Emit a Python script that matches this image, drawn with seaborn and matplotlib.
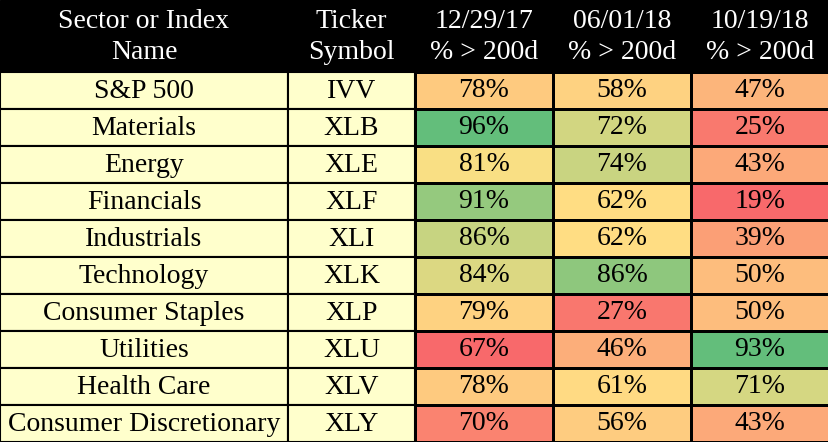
import matplotlib
matplotlib.use("Agg")
import matplotlib.pyplot as plt
import numpy as np
import pandas as pd
import seaborn as sns
from matplotlib.colors import LinearSegmentedColormap
from matplotlib.patches import Rectangle

names = ["S&P 500", "Materials", "Energy", "Financials", "Industrials", "Technology",
         "Consumer Staples", "Utilities", "Health Care", "Consumer Discretionary"]
tickers = ["IVV", "XLB", "XLE", "XLF", "XLI", "XLK", "XLP", "XLU", "XLV", "XLY"]
col_labels = ["12/29/17\n% > 200d", "06/01/18\n% > 200d", "10/19/18\n% > 200d"]
v1 = [78, 96, 81, 91, 86, 84, 79, 67, 78, 70]
v2 = [58, 72, 74, 62, 62, 86, 27, 46, 61, 56]
v3 = [47, 25, 43, 19, 39, 50, 50, 93, 71, 43]

df = pd.DataFrame({"a": v1, "b": v2, "c": v3})
# colour-scale anchors (low, mid, high) per column
anchors = {"a": (67, 80.5, 96), "b": (22, 63, 95), "c": (19, 63, 93)}

def scale(col):
    a = np.array(col, float)
    lo, md, hi = anchors[col.name]
    r = np.where(a <= md, 0.5 * (a - lo) / (md - lo), 0.5 + 0.5 * (a - md) / (hi - md))
    return np.clip(r, 0, 1)

norm = df.apply(scale)
cmap = LinearSegmentedColormap.from_list("ryg", ["#F8696B", "#FFE084", "#63BE7B"])
annot = df.map(lambda v: f"{v}%")

W, H = 829, 442
fig = plt.figure(figsize=(W / 100, H / 100), dpi=100)
font = "Liberation Serif"
fs = 20
hdr = 72
rh = (H - hdr) / 10

axl = fig.add_axes([0, 0, 1, 1])
axl.set_xlim(0, W); axl.set_ylim(H, 0); axl.axis("off")
axl.add_patch(Rectangle((0, 0), W, hdr, color="black"))
for i in range(10):
    y = hdr + i * rh
    for x0, w, t in [(0, 288, names[i]), (288, 127, tickers[i])]:
        axl.add_patch(Rectangle((x0, y), w, rh, facecolor="#FFFFCC", edgecolor="black", lw=1.5))
        axl.text(x0 + w / 2, y + rh / 2 + 1, t, ha="center", va="center", fontsize=fs, family=font)
for x, t in [(144, "Sector or Index\nName"), (351, "Ticker\nSymbol")] + \
        [(415 + 138 * k + 69, col_labels[k]) for k in range(3)]:
    axl.text(x, hdr / 2 + 1, t, ha="center", va="center", fontsize=fs, family=font,
             color="white", linespacing=1.3)

axh = fig.add_axes([415 / W, 0, (W - 415) / W, (H - hdr) / H])
sns.heatmap(norm, ax=axh, cmap=cmap, vmin=0, vmax=1, cbar=False, annot=annot, fmt="",
            annot_kws={"fontsize": fs, "family": font, "color": "black"},
            linewidths=1, linecolor="black", xticklabels=False, yticklabels=False)
axh.set_xlabel(""); axh.set_ylabel("")
fig.savefig("out.png", dpi=100)
